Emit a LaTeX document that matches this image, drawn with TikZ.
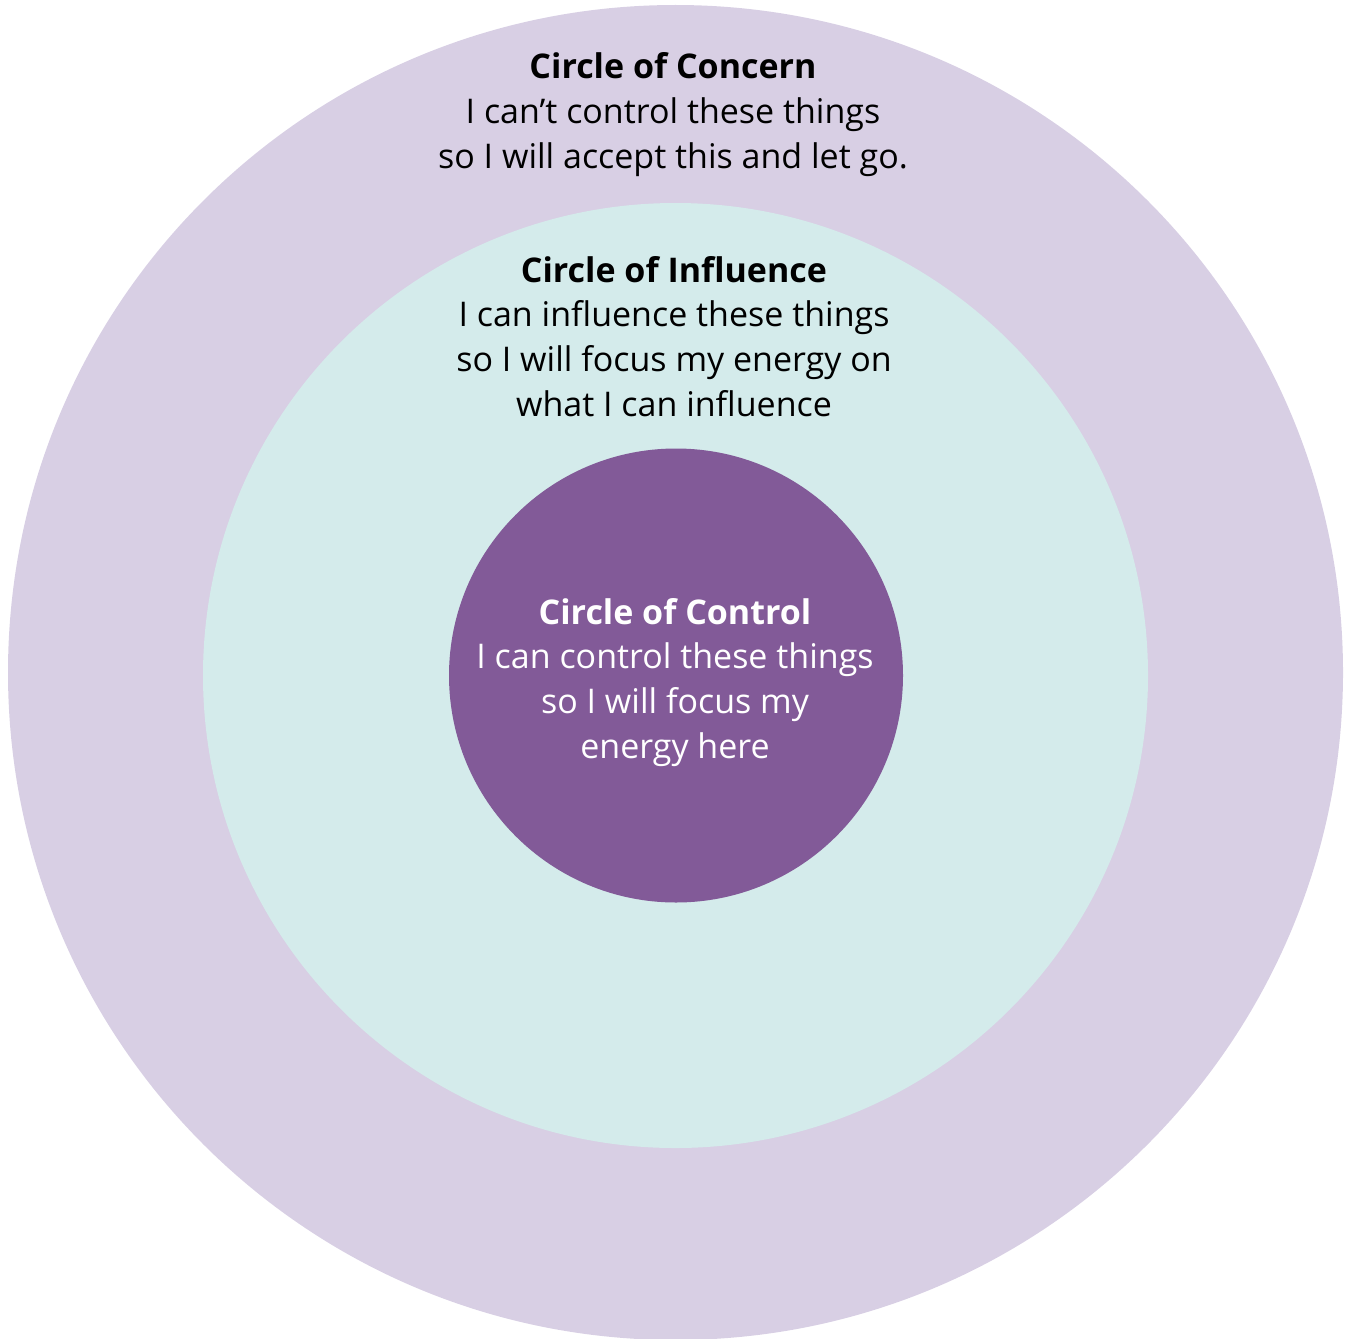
\documentclass[tikz,border=0pt]{standalone}
\usepackage{fontspec}
\setmainfont{Open Sans}
\definecolor{concernclr}{HTML}{D8CFE4}
\definecolor{influenceclr}{HTML}{D4EBEB}
\definecolor{controlclr}{HTML}{825A98}
\begin{document}
\begin{tikzpicture}[x=0.5pt,y=-0.5pt,
	ring/.style={circle,inner sep=0pt,outer sep=0pt},
	txt/.style={align=center,anchor=base,font=\fontsize{17}{22.3}\selectfont}]
	\useasboundingbox (0,0) rectangle (1347,1338);
	\node[ring,fill=concernclr,minimum size=667.5pt] (concern) at (675.5,672.5) {};
	\node[ring,fill=influenceclr,minimum size=472.5pt] (influence) at (675.5,675.5) {};
	\node[ring,fill=controlclr,minimum size=227pt] (control) at (676,675.5) {};
	% labels (base = last line)
	\node[txt] (concerntxt) at (673,168) {\textbf{Circle of Concern}\\I can’t control these things\\so I will accept this and let go.};
	\node[txt] (influencetxt) at (674,416) {\textbf{Circle of Influence}\\I can influence these things\\so I will focus my energy on\\what I can influence};
	\node[txt,text=white] (controltxt) at (675,758) {\textbf{Circle of Control}\\I can control these things\\so I will focus my\\energy here};
\end{tikzpicture}
\end{document}
